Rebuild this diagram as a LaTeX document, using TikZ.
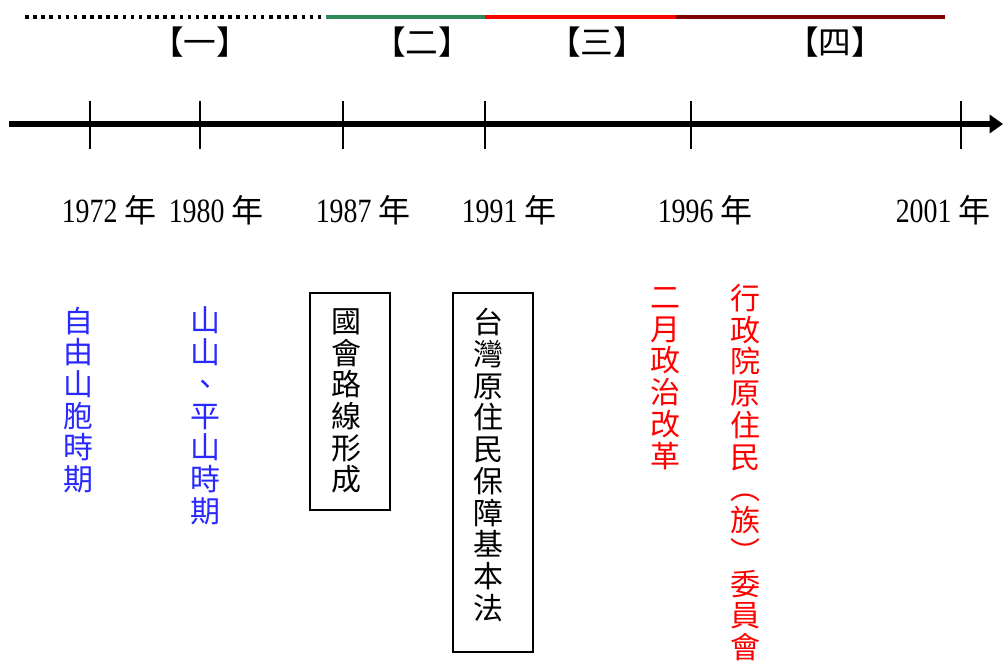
\documentclass[tikz,border=0pt]{standalone}
\usepackage{fontspec}
\setmainfont{Liberation Serif}[FakeStretch=0.82]
\newfontfamily\cjktc{Noto Sans CJK TC}
\newfontfamily\cjksc{Noto Sans CJK SC}
\usetikzlibrary{arrows.meta}
\definecolor{segreen}{RGB}{46,139,87}
\definecolor{dred}{RGB}{128,0,0}
\definecolor{vblue}{RGB}{40,40,255}
\newcommand\nian{{\cjktc\fontsize{24pt}{24pt}\selectfont 年}}
\begin{document}
\begin{tikzpicture}[x=0.75pt,y=-0.75pt,
  period/.style={font=\cjksc\fontsize{24.5pt}{24.5pt}\selectfont, inner sep=0pt},
  yearlbl/.style={font=\fontsize{25.5pt}{26pt}\selectfont, inner sep=0pt, anchor=base},
  vtext/.style={align=center, inner sep=0pt, font=\cjktc\fontsize{22.5pt}{23.8pt}\selectfont},
  tickline/.style={line width=1pt},
  eventbox/.style={draw, line width=1pt, minimum width=60pt, inner sep=0pt},
  bar/.style={line width=3.5pt}
]
\useasboundingbox (0,0) rectangle (1003,664);
% top bar
\coordinate (b0) at (25,17);
\coordinate (b1) at (326,17);
\coordinate (b2) at (485,17);
\coordinate (b3) at (676,17);
\coordinate (b4) at (945,17);
\draw[line width=2.7pt, dash pattern=on 2.7pt off 3.4pt] (b0) -- (b1);
\draw[bar, segreen] (b1) -- (b2);
\draw[bar, red] (b2) -- (b3);
\draw[bar, dred] (b3) -- (b4);
% period labels
\node[period] (p1) at (200,42) {【一】};
\node[period] (p2) at (422,42) {【二】};
\node[period] (p3) at (597,42) {【三】};
\node[period] (p4) at (835,42) {【四】};
% axis
\coordinate (axs) at (9,124);
\coordinate (axe) at (1003,124);
\draw[line width=4pt, -{Triangle[length=10pt,width=13.5pt]}] (axs) -- (axe);
\foreach \t in {90,200,343,485,691,961}{
  \coordinate (ta\t) at (\t,101);
  \coordinate (tb\t) at (\t,149);
  \draw[tickline] (ta\t) -- (tb\t);
}
% year labels
\node[yearlbl] (y1972) at (109,222) {1972\kern5pt\nian};
\node[yearlbl] (y1980) at (216,222) {1980\kern5pt\nian};
\node[yearlbl] (y1987) at (363,222) {1987\kern5pt\nian};
\node[yearlbl] (y1991) at (509,222) {1991\kern5pt\nian};
\node[yearlbl] (y1996) at (705,222) {1996\kern5pt\nian};
\node[yearlbl] (y2001) at (943,222) {2001\kern5pt\nian};
% events
\node[vtext, text=vblue] (e1) at (78,400) {自\\由\\山\\胞\\時\\期};
\node[vtext, text=vblue] (e2) at (205,416) {山\\山\\、\\平\\山\\時\\期};
\node[eventbox, minimum height=162.75pt] (box1) at (350,401.5) {};
\node[vtext] (e3) at (346,401) {國\\會\\路\\線\\形\\成};
\node[eventbox, minimum height=269.25pt] (box2) at (493,472.5) {};
\node[vtext] (e4) at (488,465) {台\\灣\\原\\住\\民\\保\\障\\基\\本\\法};
\node[vtext, text=red] (e5) at (665,378.5) {二\\月\\政\\治\\改\\革};
\node[vtext, text=red] (e6) at (745,472.5) {行\\政\\院\\原\\住\\民\\︵\\族\\︶\\委\\員\\會};
\end{tikzpicture}
\end{document}
